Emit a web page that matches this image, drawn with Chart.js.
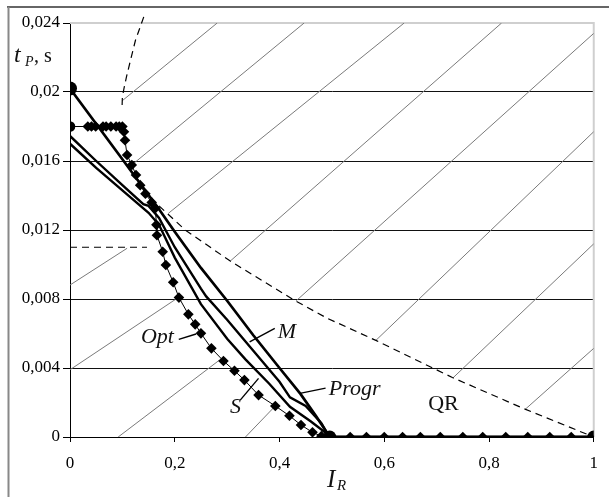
<!DOCTYPE html>
<html><head><meta charset="utf-8">
<script src="https://cdn.jsdelivr.net/npm/chart.js@4/dist/chart.umd.min.js"></script>
<style>html,body{margin:0;padding:0;background:#fff}#wrap{width:609px;height:497px;position:relative}</style>
</head><body><div id="wrap"><canvas id="c" width="609" height="497"></canvas></div>
<script>
// ---- ticks ----
const xTickValues = [0, 0.2, 0.4, 0.6, 0.8, 1];
const xTickLabels = ['0', '0,2', '0,4', '0,6', '0,8', '1'];
const yTickValues = [0, 0.004, 0.008, 0.012, 0.016, 0.02, 0.024];
const yTickLabels = ['0', '0,004', '0,008', '0,012', '0,016', '0,02', '0,024'];

// ---- series: Opt (diamonds) ----
const optX = [0, 0.034, 0.041, 0.049, 0.063, 0.069, 0.078, 0.088, 0.094, 0.100, 0.103, 0.105, 0.109, 0.118, 0.126, 0.134, 0.144, 0.156, 0.163, 0.165, 0.166, 0.177, 0.183, 0.197, 0.208, 0.226, 0.239, 0.250, 0.270, 0.293, 0.314, 0.333, 0.360, 0.392, 0.419, 0.441, 0.463, 0.480, 0.500, 0.535, 0.566, 0.600, 0.635, 0.669, 0.707, 0.750, 0.788, 0.832, 0.874, 0.916, 0.957, 1.0];
const optY = [0.0180, 0.0180, 0.0180, 0.0180, 0.0180, 0.0180, 0.0180, 0.0180, 0.0180, 0.0180, 0.0177, 0.0172, 0.01635, 0.01577, 0.01519, 0.0146, 0.0141, 0.0136, 0.01326, 0.0123, 0.0117, 0.01074, 0.00997, 0.00897, 0.00808, 0.00711, 0.00653, 0.00601, 0.00514, 0.00441, 0.00384, 0.0033, 0.00243, 0.0018, 0.00123, 0.0007, 0.00027, 0.00005, 0, 0, 0, 0, 0, 0, 0, 0, 0, 0, 0, 0, 0, 0];

// ---- series: S ----
const sX = [0, 0.05, 0.1, 0.15, 0.17, 0.2, 0.25, 0.3, 0.335, 0.38, 0.42, 0.46, 0.49, 0.495, 1.0];
const sY = [0.0170, 0.0156, 0.0143, 0.0130, 0.0123, 0.0104, 0.0077, 0.0057, 0.0045, 0.0031, 0.00175, 0.0009, 0.0002, 0, 0];

// ---- series: Progr ----
const progrX = [0, 0.05, 0.1, 0.14, 0.15, 0.17, 0.2, 0.25, 0.26, 0.3, 0.35, 0.4, 0.42, 0.45, 0.48, 0.495, 1.0];
const progrY = [0.01745, 0.0160, 0.0146, 0.0135, 0.0134, 0.0127, 0.0110, 0.0086, 0.00815, 0.0068, 0.0050, 0.0032, 0.0023, 0.0018, 0.0008, 0, 0];

// ---- series: M ----
const mX = [0, 0.1, 0.17, 0.2, 0.25, 0.3, 0.35, 0.4, 0.44, 0.47, 0.496, 1.0];
const mY = [0.0202, 0.0161, 0.0132, 0.0119, 0.0098, 0.0079, 0.0059, 0.0040, 0.0025, 0.0012, 0, 0];

// ---- dashed boundaries ----
const arcX = [0.0995, 0.100, 0.103, 0.108, 0.116, 0.125, 0.141];
const arcY = [0.01925, 0.0197, 0.0202, 0.0209, 0.0219, 0.0230, 0.02437];
const qrX = [0.17, 0.22, 0.306, 0.43, 0.49, 0.584, 0.73, 0.87, 1.0];
const qrY = [0.0134, 0.0120, 0.0102, 0.0079, 0.0069, 0.0056, 0.00345, 0.0016, 0];
const levelX = [0, 0.147];
const levelY = [0.011, 0.011];

// ---- hatching segments (start -> end) ----
const hatchX1 = [0.281, 0.447, 0.638, 0.824, 1.0, 1.0, 1.0, 1.0, 0, 0, 0.092, 0.335];
const hatchY1 = [0.024, 0.024, 0.024, 0.024, 0.0234, 0.0177, 0.0112, 0.00514, 0.00881, 0.0039, 0, 0];
const hatchX2 = [0.100, 0.122, 0.188, 0.306, 0.432, 0.584, 0.732, 0.869, 0.109, 0.205, 0.285, 0.392];
const hatchY2 = [0.0195, 0.01587, 0.01297, 0.0102, 0.0079, 0.0056, 0.00345, 0.0016, 0.01094, 0.00805, 0.00445, 0.0018];

// ---- annotations ----
const labelTexts = ['Opt', 'M', 'S', 'Progr', 'QR'];
const labelX = [0.167, 0.414, 0.316, 0.494, 0.713];
const labelY = [0.00545, 0.00574, 0.00139, 0.00243, 0.00157];
const leaderX1 = [0.2077, 0.391, 0.325, 0.488];
const leaderY1 = [0.00566, 0.0063, 0.00214, 0.00283];
const leaderX2 = [0.2407, 0.343, 0.360, 0.439];
const leaderY2 = [0.00597, 0.00552, 0.0034, 0.00253];

const pts = (xs, ys) => xs.map((x, i) => ({x: x, y: ys[i]}));
const hatchData = [];
hatchX1.forEach((x, i) => {
  hatchData.push({x: x, y: hatchY1[i]});
  hatchData.push({x: hatchX2[i], y: hatchY2[i]});
  hatchData.push({x: hatchX2[i], y: null});
});

const SERIF = "'Liberation Serif', 'Times New Roman', serif";

const decor = {
  id: 'decor',
  beforeDraw(chart) {
    const c = chart.ctx;
    c.save();
    c.strokeStyle = '#333'; c.lineWidth = 1.5;
    c.beginPath(); c.moveTo(7, 7); c.lineTo(609, 7); c.stroke();
    c.strokeStyle = '#888'; c.lineWidth = 2;
    c.beginPath(); c.moveTo(8.5, 7); c.lineTo(8.5, 497); c.stroke();
    c.restore();
  },
  beforeDatasetsDraw(chart) {
    const a = chart.chartArea, c = chart.ctx;
    c.save();
    c.strokeStyle = '#cfcfcf'; c.lineWidth = 2;
    c.beginPath(); c.moveTo(a.left, a.top); c.lineTo(a.right, a.top); c.lineTo(a.right, a.bottom); c.stroke();
    c.restore();
  },
  afterDatasetsDraw(chart) {
    const c = chart.ctx, xs = chart.scales.x, ys = chart.scales.y;
    c.save();
    c.strokeStyle = '#000'; c.lineWidth = 1.4;
    leaderX1.forEach((x, i) => {
      c.beginPath();
      c.moveTo(xs.getPixelForValue(x), ys.getPixelForValue(leaderY1[i]));
      c.lineTo(xs.getPixelForValue(leaderX2[i]), ys.getPixelForValue(leaderY2[i]));
      c.stroke();
    });
    c.fillStyle = '#111';
    c.textBaseline = 'alphabetic';
    labelTexts.forEach((t, i) => {
      const italic = t !== 'QR';
      c.font = (italic ? 'italic ' : '') + '22px ' + SERIF;
      c.textAlign = t === 'Progr' ? 'left' : 'center';
      c.fillText(t, xs.getPixelForValue(labelX[i]), ys.getPixelForValue(labelY[i]));
    });
    // axis titles
    c.textAlign = 'left';
    c.font = 'italic 24px ' + SERIF; c.fillText('t', 14, 62);
    c.font = 'italic 14px ' + SERIF; c.fillText('P', 25, 66);
    c.font = '20px ' + SERIF; c.fillText(', s', 34, 62);
    c.font = 'italic 25px ' + SERIF; c.fillText('I', 327, 487);
    c.font = 'italic 15px ' + SERIF; c.fillText('R', 337, 490);
    c.restore();
  }
};

const optStyles = optX.map((x, i) => (i === 0 || i === optX.length - 1) ? 'circle' : 'rectRot');
const optRadius = optX.map((x, i) => i === optX.length - 1 ? 6.5 : 5.3);

new Chart(document.getElementById('c'), {
  type: 'line',
  data: {
    datasets: [
      { label: 'Opt', data: pts(optX, optY), borderColor: '#000', borderWidth: 1, backgroundColor: '#000',
        pointStyle: optStyles, pointRadius: optRadius, pointBackgroundColor: '#000', pointBorderColor: '#000', pointBorderWidth: 0, order: 1 },
      { label: 'M', data: pts(mX, mY), borderColor: '#000', borderWidth: 2.7,
        pointRadius: mX.map((x, i) => (i === 0) ? 7 : (i === mX.length - 2 ? 6.5 : 0)), pointBackgroundColor: '#000', pointBorderWidth: 0, order: 2 },
      { label: 'Progr', data: pts(progrX, progrY), borderColor: '#000', borderWidth: 2.4,
        pointRadius: progrX.map((x, i) => i === progrX.length - 2 ? 6 : 0), pointBackgroundColor: '#000', pointBorderWidth: 0, order: 3 },
      { label: 'S', data: pts(sX, sY), borderColor: '#000', borderWidth: 2.4,
        pointRadius: sX.map((x, i) => i === sX.length - 2 ? 6 : 0), pointBackgroundColor: '#000', pointBorderWidth: 0, order: 4 },
      { label: 'arc', data: pts(arcX, arcY), borderColor: '#000', borderWidth: 1.2, borderDash: [7, 5], pointRadius: 0, clip: false, order: 5 },
      { label: 'QRboundary', data: pts(qrX, qrY), borderColor: '#000', borderWidth: 1.2, borderDash: [7, 5], pointRadius: 0, order: 5 },
      { label: 'level', data: pts(levelX, levelY), borderColor: '#000', borderWidth: 1.2, borderDash: [7, 5], pointRadius: 0, order: 5 },
      { label: 'hatch', data: hatchData, borderColor: '#7a7a7a', borderWidth: 1, pointRadius: 0, spanGaps: false, order: 10 }
    ]
  },
  options: {
    responsive: false,
    animation: false,
    events: [],
    layout: { padding: { top: 23, right: 6, left: 0, bottom: 0 } },
    plugins: { legend: { display: false }, tooltip: { enabled: false } },
    elements: { line: { tension: 0 } },
    scales: {
      x: {
        type: 'linear', min: 0, max: 1,
        afterBuildTicks: s => { s.ticks = xTickValues.map(v => ({value: v})); },
        afterFit: s => { s.height = 60; },
        border: { color: '#000', width: 1 },
        grid: { drawOnChartArea: false, drawTicks: true, tickLength: 5, tickColor: '#000' },
        ticks: { callback: (v, i) => xTickLabels[i], color: '#000', padding: 11, maxRotation: 0, autoSkip: false,
                 font: { family: SERIF, size: 17 } }
      },
      y: {
        type: 'linear', min: 0, max: 0.024,
        afterBuildTicks: s => { s.ticks = yTickValues.map(v => ({value: v})); },
        afterFit: s => { s.width = 70; },
        border: { color: '#000', width: 1 },
        grid: { color: ctx => (ctx.tick && ctx.tick.value > 0.0235) ? 'rgba(0,0,0,0)' : '#111',
                lineWidth: 1, drawTicks: true, tickLength: 7, tickColor: '#000' },
        ticks: { callback: (v, i) => yTickLabels[i], color: '#000', padding: 3, autoSkip: false,
                 font: { family: SERIF, size: 17 } }
      }
    }
  },
  plugins: [decor]
});
</script>
</body></html>
